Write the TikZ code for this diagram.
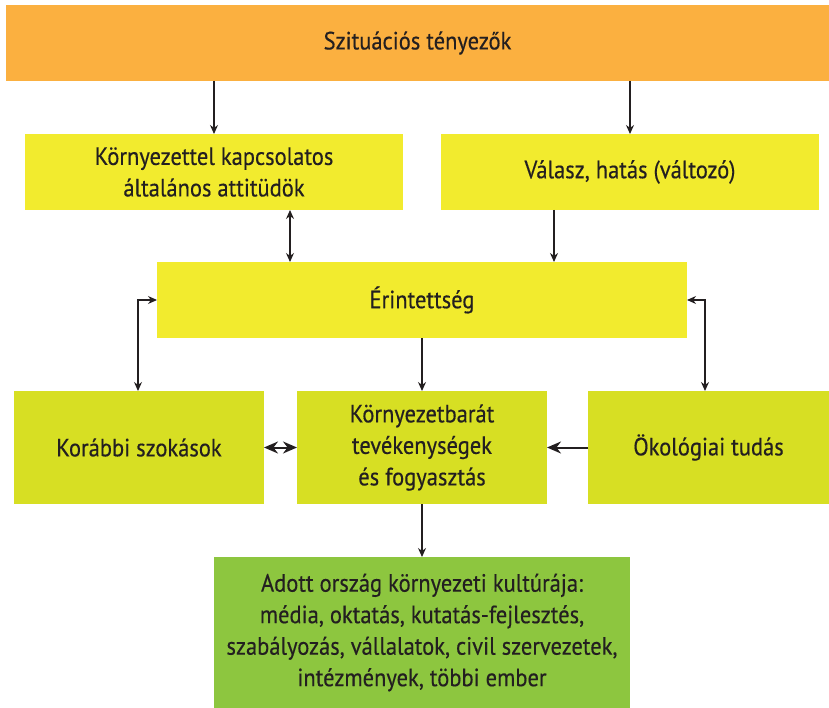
\documentclass[tikz,border=0pt]{standalone}
\usepackage{fontspec}
\setmainfont{PT Sans}[FakeStretch=0.9,FakeBold=0.4]
\usetikzlibrary{arrows.meta,calc}
\definecolor{orangebox}{HTML}{FBB040}
\definecolor{yellowbox}{HTML}{F2EB2E}
\definecolor{limebox}{HTML}{D7DF23}
\definecolor{greenbox}{HTML}{8DC63F}
\definecolor{ink}{HTML}{231F20}
\begin{document}
\begin{tikzpicture}[x=1pt,y=-1pt,
  box/.style={rectangle, inner sep=0pt, outer sep=0pt, align=center, text=ink,
    font=\fontsize{25}{31.5}\selectfont},
  thin arrow/.style={draw=ink, line width=1.2pt, -{Stealth[length=9pt,width=8pt]}},
  thin both/.style={draw=ink, line width=1.2pt, {Stealth[length=9pt,width=8pt]}-{Stealth[length=9pt,width=8pt]}},
  thick arrow/.style={draw=ink, line width=2pt, -{Stealth[length=14pt,width=12pt]}},
  thick both/.style={draw=ink, line width=2pt, {Stealth[length=14pt,width=12pt]}-{Stealth[length=14pt,width=12pt]}}]
\useasboundingbox (0,0) rectangle (829,708);
\node[box, fill=orangebox, minimum width=823, minimum height=76] (sit) at (417.5,43) {Szituációs tényezők};
\node[box, fill=yellowbox, minimum width=378, minimum height=76] (att) at (214,172) {Környezettel kapcsolatos\\általános attitüdök};
\node[box, fill=yellowbox, minimum width=378, minimum height=76] (val) at (630,172) {Válasz, hatás (változó)};
\node[box, fill=yellowbox, minimum width=530, minimum height=76] (eri) at (422,300) {Érintettség};
\node[box, fill=limebox, minimum width=250, minimum height=113] (kor) at (139,447.5) {Korábbi szokások};
\node[box, fill=limebox, minimum width=250, minimum height=113] (mid) at (422,447.5) {Környezetbarát\\tevékenységek\\és fogyasztás};
\node[box, fill=limebox, minimum width=241, minimum height=113] (oko) at (708.5,447.5) {Ökológiai tudás};
\node[box, fill=greenbox, minimum width=416, minimum height=151] (cul) at (422,632.5) {Adott ország környezeti kultúrája:\\média, oktatás, kutatás-fejlesztés,\\szabályozás, vállalatok, civil szervezetek,\\intézmények, többi ember};
% connectors
\draw[thin arrow] (att.north |- sit.south) -- (att.north);
\draw[thin arrow] (val.north |- sit.south) -- (val.north);
\draw[thin both] ([xshift=76]att.south) -- ([xshift=76]att.south |- eri.north);
\draw[thin arrow] ([xshift=-76]val.south) -- ([xshift=-76]val.south |- eri.north);
\draw[thin both] ([xshift=-1]kor.north) |- (eri.west);
\draw[thin both] ([xshift=-3.5]oko.north) |- (eri.east);
\draw[thin arrow] (eri.south) -- (mid.north);
\draw[thick arrow] (oko.west) -- (mid.east);
\draw[thick both] (kor.east) -- (mid.west);
\draw[thin arrow] (mid.south) -- (cul.north);
\end{tikzpicture}
\end{document}
